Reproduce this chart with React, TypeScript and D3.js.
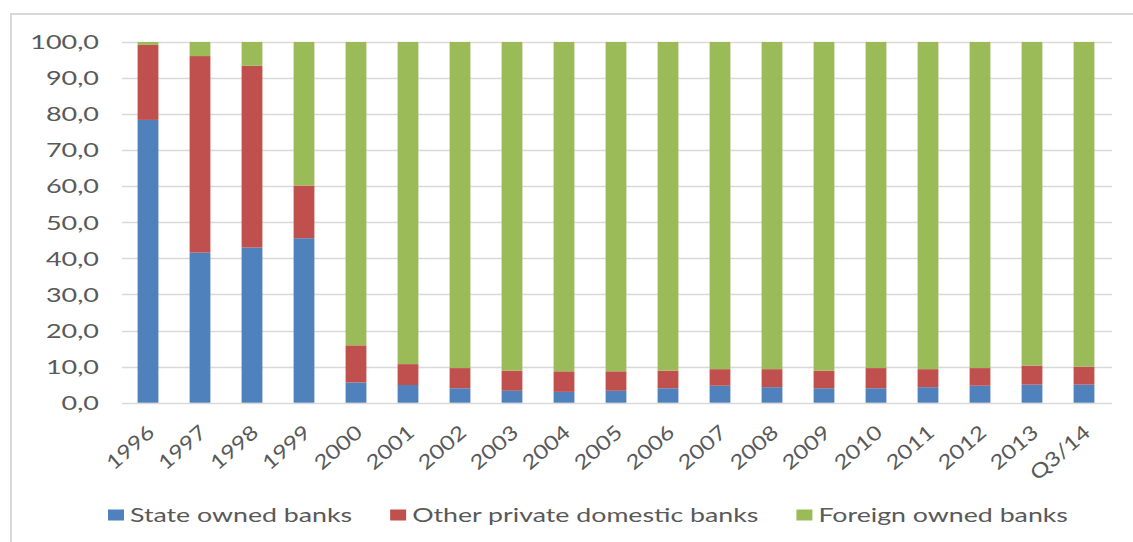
import React, { useEffect, useRef } from "react";
import * as d3 from "d3";

const categories = ["1996","1997","1998","1999","2000","2001","2002","2003","2004","2005","2006","2007","2008","2009","2010","2011","2012","2013","Q3/14"];
const stateOwned = [78.4, 41.6, 43.0, 45.6, 5.6, 4.9, 4.0, 3.3, 3.0, 3.3, 4.0, 4.7, 4.3, 4.0, 4.0, 4.3, 4.7, 5.0, 5.0];
const otherDomestic = [20.8, 54.5, 50.4, 14.6, 10.3, 5.8, 5.6, 5.6, 5.7, 5.4, 4.9, 4.6, 5.0, 4.9, 5.6, 5.0, 4.9, 5.3, 5.0];
const foreignOwned = categories.map((_, i) => +(100 - stateOwned[i] - otherDomestic[i]).toFixed(1));
const seriesNames = ["State owned banks", "Other private domestic banks", "Foreign owned banks"];
const seriesColors = ["#4f81bd", "#c0504d", "#9bbb59"];
const yTicks = [0, 10, 20, 30, 40, 50, 60, 70, 80, 90, 100];

const W = 1133, H = 542;
const SX = 1.35;
const FONT = "Lato, 'Open Sans', sans-serif";
const TXT = "#595959";

export default function App() {
  const ref = useRef<SVGSVGElement>(null);
  useEffect(() => {
    const svg = d3.select(ref.current);
    svg.selectAll("*").remove();

    const x = d3.scaleBand<string>().domain(categories).range([122, 1110]).paddingInner(0.6).paddingOuter(0.3);
    const y = d3.scaleLinear().domain([0, 100]).range([402.7, 42]);

    // frame
    svg.append("rect").attr("x", 11).attr("y", 14).attr("width", W + 20).attr("height", H + 20)
      .attr("fill", "none").attr("stroke", "#d9d9d9").attr("stroke-width", 2);

    // gridlines
    svg.append("g").selectAll("line").data(yTicks).join("line")
      .attr("x1", 122).attr("x2", 1112)
      .attr("y1", d => Math.round(y(d)) + 0.5).attr("y2", d => Math.round(y(d)) + 0.5)
      .attr("stroke", "#d9d9d9").attr("stroke-width", 1.3);

    // y labels
    svg.append("g").selectAll("text").data(yTicks).join("text")
      .attr("transform", d => `translate(99,${y(d)}) scale(${SX},1)`)
      .attr("text-anchor", "end").attr("dy", "0.36em")
      .attr("font-family", FONT).attr("font-size", 20).attr("fill", TXT)
      .text(d => d3.format(".1f")(d).replace(".", ","));

    // stacked bars
    const rows = categories.map((c, i) => ({ cat: c, s0: stateOwned[i], s1: otherDomestic[i], s2: foreignOwned[i] }));
    const stack = d3.stack<any>().keys(["s0", "s1", "s2"])(rows);
    svg.append("g").selectAll("g").data(stack).join("g")
      .attr("fill", (_, i) => seriesColors[i])
      .selectAll("rect").data(d => d).join("rect")
      .attr("x", d => x(d.data.cat)!)
      .attr("width", x.bandwidth())
      .attr("y", d => y(Math.min(100, d[1])))
      .attr("height", d => y(d[0]) - y(Math.min(100, d[1])));

    // x labels
    svg.append("g").selectAll("text").data(categories).join("text")
      .attr("transform", d => `translate(${x(d)! + x.bandwidth() / 2 + 3},${429}) rotate(-41) scale(1.2,1)`)
      .attr("text-anchor", "end").attr("dy", "0.36em")
      .attr("font-family", FONT).attr("font-size", 20).attr("fill", TXT)
      .text(d => d);

    // legend
    const lg = svg.append("g");
    let cx = 108;
    seriesNames.forEach((name, i) => {
      lg.append("rect").attr("x", cx).attr("y", 509.5).attr("width", 16).attr("height", 11).attr("fill", seriesColors[i]);
      const t = lg.append("text")
        .attr("transform", `translate(${cx + 22},${515}) scale(${SX},1)`)
        .attr("dy", "0.36em")
        .attr("font-family", FONT).attr("font-size", 19.8).attr("fill", TXT)
        .text(name);
      const w = (t.node() as SVGTextElement).getComputedTextLength() * SX;
      cx += 22 + w + 38;
    });
  }, []);
  return (
    <svg ref={ref} width={W} height={H} style={{ position: "absolute", left: 0, top: 0, background: "#fff" }} />
  );
}
